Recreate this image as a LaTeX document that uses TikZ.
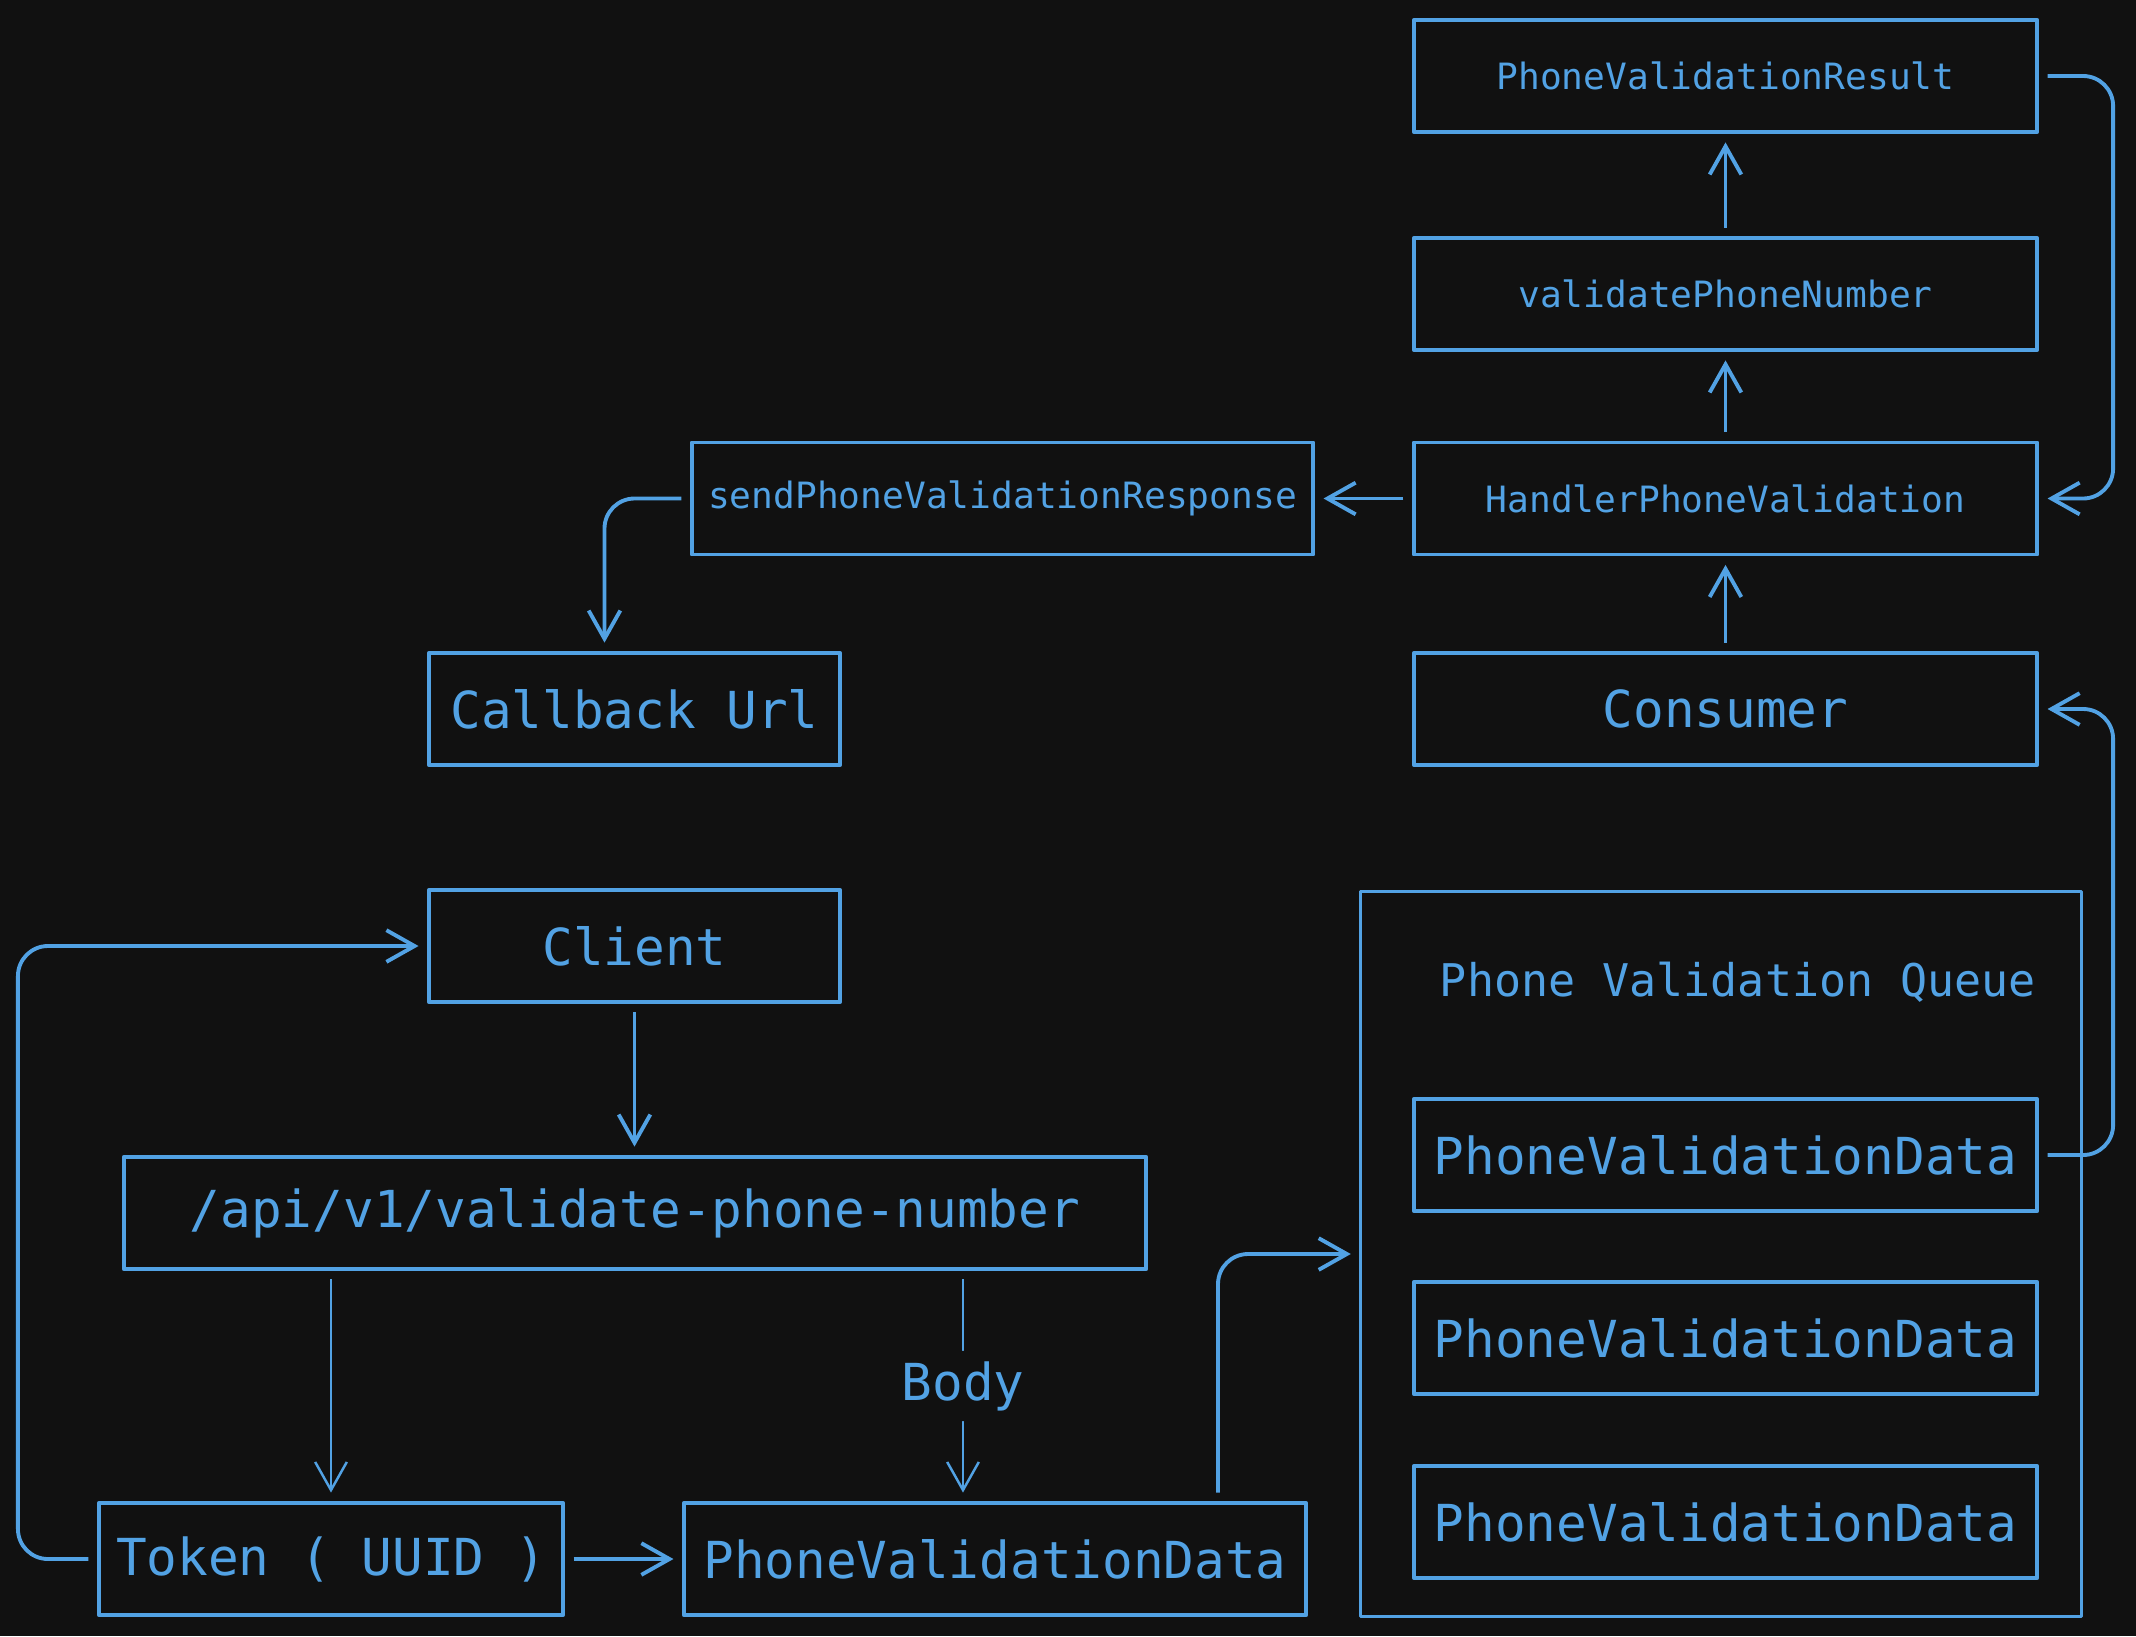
\documentclass[tikz,border=0pt]{standalone}
\usepackage{fontspec}
\setmonofont{DejaVu Sans Mono}
\usepackage{xcolor}
\usetikzlibrary{arrows.meta,calc}
\definecolor{bgdark}{HTML}{111111}
\definecolor{linkblue}{HTML}{52A2E4}

\begin{document}
\begin{tikzpicture}[x=0.01cm,y=-0.01cm,>={Straight Barb[length=8pt,width=9pt]},line join=round,
  box/.style={draw=linkblue,line width=1.1pt,text=linkblue,inner sep=0pt,minimum height=1.12cm,
    font=\ttfamily\fontsize{14.5}{17}\selectfont},
  smallbox/.style={box,font=\ttfamily\fontsize{10.3}{12}\selectfont},
  link/.style={->,draw=linkblue,line width=1.1pt,rounded corners=0.3cm,shorten <=2.4pt,shorten >=2.4pt},
  thinlink/.style={link,line width=0.7pt}]
  \fill[bgdark] (0,0) rectangle (2136,1636);
  % upper chain
  \node[smallbox,minimum width=6.23cm] (result) at (1725.5,76) {PhoneValidationResult};
  \node[smallbox,minimum width=6.23cm] (validate) at (1725.5,294) {validatePhoneNumber};
  \node[smallbox,minimum width=6.23cm] (handler) at (1725.5,498.5) {HandlerPhoneValidation};
  \node[smallbox,minimum width=6.21cm] (send) at (1002.5,498.5) {sendPhoneValidationResponse};
  \node[box,minimum width=4.11cm] (callback) at (634.5,709) {Callback Url};
  \node[box,minimum width=6.23cm] (consumer) at (1725.5,709) {Consumer};
  % lower part
  \node[box,minimum width=4.11cm] (client) at (634.5,946) {Client};
  \node[box,minimum width=10.22cm] (api) at (635,1213) {/api/v1/validate-phone-number};
  \node[box,minimum width=4.64cm] (token) at (331,1559) {Token ( UUID )};
  \node[box,minimum width=6.22cm] (pvdata) at (995,1559) {PhoneValidationData};
  % queue
  \node[draw=linkblue,line width=0.9pt,minimum width=7.2cm,minimum height=7.24cm] (queue) at (1721,1254) {};
  \node[text=linkblue,font=\ttfamily\fontsize{12.8}{15}\selectfont] (qtitle) at (1738,982) {Phone Validation Queue};
  \node[box,minimum width=6.23cm] (data1) at (1725.5,1155) {PhoneValidationData};
  \node[box,minimum width=6.23cm] (data2) at (1725.5,1338) {PhoneValidationData};
  \node[box,minimum width=6.23cm] (data3) at (1725.5,1522) {PhoneValidationData};
  % connectors
  \draw[link] (validate.north) -- (result.south);
  \draw[link] (handler.north) -- (validate.south);
  \draw[link] (consumer.north) -- (handler.south);
  \draw[link] (result.east) -| ($(handler.east)+(74,0)$) -- (handler.east);
  \draw[link] (handler.west) -- (send.east);
  \draw[link] (send.west) -| ($(callback.north)+(-30,0)$);
  \draw[link] (client.south) -- (api.north -| client.south);
  \draw[thinlink] (api.south -| token.north) -- (token.north);
  \draw[thinlink] ($(api.south)+(328,0)$) -- node[fill=bgdark,text=linkblue,inner sep=3pt,
    font=\ttfamily\fontsize{14.5}{17}\selectfont] (body) {Body} ($(pvdata.north)+(-32,0)$);
  \draw[link] (token.east) -- (pvdata.west);
  \draw[link] (token.west) -- ++(-79,0) |- (client.west);
  \draw[link] ($(pvdata.north)+(223,0)$) |- (queue.west);
  \draw[link] (data1.east) -| ($(consumer.east)+(74,0)$) -- (consumer.east);
\end{tikzpicture}
\end{document}
